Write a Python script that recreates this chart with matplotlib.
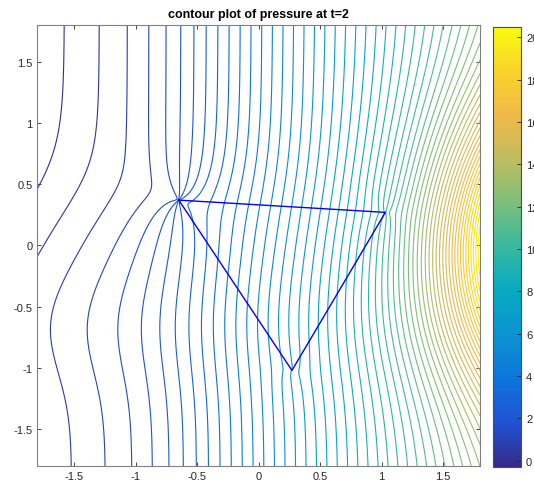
import numpy as np
import matplotlib
matplotlib.use('Agg')
import matplotlib.pyplot as plt
from matplotlib.colors import LinearSegmentedColormap, Normalize
from matplotlib.cm import ScalarMappable

plt.rcParams['font.family'] = ['Liberation Sans', 'DejaVu Sans']

# triangle outline (closed)
tri_x = [-0.65, 1.03, 0.27, -0.65]
tri_y = [0.37, 0.27, -1.02, 0.37]

# background pressure: gradient across x (left / right value), step centre and width
grad_lo, grad_hi = 1.1, 4.27
step_x0, step_w = -0.8, 0.45
p_top_left = -0.29

# vertical bias along left part (amplitude, centre, width) and low bump
bias_amp, bias_y0, bias_w = 0.33, 0.35, 0.55
bump_amp, bump_y0, bump_w = 0.22, -0.65, 0.55

# source beyond the right edge
src_amp, src_x, src_y, src_w2 = 23.6, 2.96, 0.0, 1.22

# local disturbances at the triangle corners
corner_amp = [0.75, 0.3, 0.15]
corner_dir = [-30.0, 0.0, -30.0]
corner_len = [0.28, 0.15, 0.15]

# contour levels and colour range
level_start, level_step, n_levels = -0.4, 0.365, 57
cmin, cmax = -0.3, 20.5
cbar_ticks = [0, 2, 4, 6, 8, 10, 12, 14, 16, 18, 20]
axis_ticks = [-1.5, -1, -0.5, 0, 0.5, 1, 1.5]
axis_labels = ['-1.5', '-1', '-0.5', '0', '0.5', '1', '1.5']

parula = [(0.2081, 0.1663, 0.5292), (0.1253, 0.3242, 0.8303),
          (0.0498, 0.4586, 0.8641), (0.0488, 0.5772, 0.8228),
          (0.0267, 0.6642, 0.7607), (0.2178, 0.7250, 0.6193),
          (0.4871, 0.7491, 0.4840), (0.7525, 0.7384, 0.3768),
          (0.9450, 0.7261, 0.2886), (0.9789, 0.8271, 0.1633),
          (0.9763, 0.9831, 0.0538)]
cmap = LinearSegmentedColormap.from_list('parula', parula, N=256)

x = np.linspace(-1.8, 1.8, 401)
y = np.linspace(-1.8, 1.8, 401)
X, Y = np.meshgrid(x, y)


def base_x(xx):
    return grad_lo * xx + (grad_hi - grad_lo) * 0.5 * (
        xx + step_w * np.log(np.cosh((xx - step_x0) / step_w)))


P = base_x(X) - base_x(-1.8) + p_top_left
P += bias_amp * (1 - np.tanh((Y - bias_y0) / bias_w))
P += bump_amp * np.exp(-((Y - bump_y0) / bump_w) ** 2)
P += src_amp * np.exp(-((X - src_x) ** 2 + (Y - src_y) ** 2) / src_w2)
for cx, cy, a, d, l in zip(tri_x[:3], tri_y[:3], corner_amp, corner_dir, corner_len):
    dx, dy = X - cx, Y - cy
    r = np.sqrt(dx ** 2 + dy ** 2)
    t = np.deg2rad(d)
    P += a * (dx * np.cos(t) + dy * np.sin(t)) / np.sqrt(r ** 2 + 1e-4) * np.exp(-r / l)

levels = level_start + level_step * np.arange(1, n_levels + 1)
norm = Normalize(vmin=cmin, vmax=cmax)

fig = plt.figure(figsize=(5.34, 4.89), dpi=100)
ax = fig.add_axes([0.070, 0.045, 0.829, 0.902])
ax.contour(X, Y, P, levels=levels, cmap=cmap, norm=norm, linewidths=0.8)
ax.plot(tri_x, tri_y, color='blue', lw=1.0)
ax.set_xlim(-1.8, 1.8)
ax.set_ylim(-1.8, 1.8)
ax.set_xticks(axis_ticks)
ax.set_xticklabels(axis_labels)
ax.set_yticks(axis_ticks)
ax.set_yticklabels(axis_labels)
ax.tick_params(direction='in', top=True, right=True, length=3, width=0.6,
               labelsize=8, colors='0.15')
for s in ax.spines.values():
    s.set_color('0.5')
    s.set_linewidth(0.8)
ax.set_title('contour plot of pressure at t=2', fontsize=9, fontweight='bold', pad=6)

cax = fig.add_axes([0.923, 0.043, 0.053, 0.9])
cb = fig.colorbar(ScalarMappable(norm=norm, cmap=cmap), cax=cax)
cb.set_ticks(cbar_ticks)
cax.tick_params(direction='in', length=3, width=0.6, labelsize=8, colors='0.15')
cb.outline.set_edgecolor('0.3')
cb.outline.set_linewidth(0.8)

fig.savefig('out.png', dpi=100)
